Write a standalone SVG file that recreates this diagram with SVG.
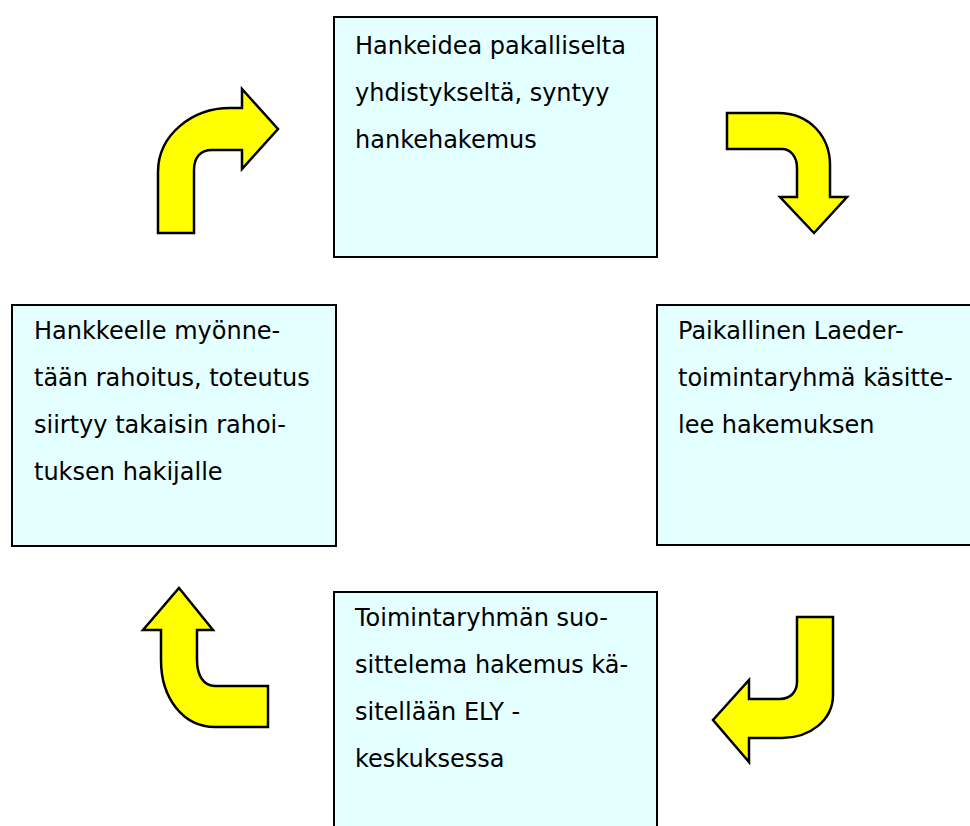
<svg xmlns="http://www.w3.org/2000/svg" width="970" height="826" viewBox="0 0 970 826">
<style>
.box{fill:#e4ffff;stroke:#000;stroke-width:2}
.t{font-family:"DejaVu Sans",Verdana,sans-serif;font-size:24px;fill:#000}
.arr{fill:#ffff00;stroke:#000;stroke-width:2.5;stroke-linejoin:miter}
</style>
<rect width="970" height="826" fill="#fff"/>
<g id="node-top">
<rect class="box" x="334" y="17" width="323" height="240"/>
<text class="t" x="355" y="54">Hankeidea pakalliselta</text>
<text class="t" x="355" y="101">yhdistykseltä, syntyy</text>
<text class="t" x="355" y="148">hankehakemus</text>
</g>
<g id="node-right">
<rect class="box" x="657" y="305" width="320" height="240"/>
<text class="t" x="678" y="339">Paikallinen Laeder-</text>
<text class="t" x="678" y="386">toimintaryhmä käsitte-</text>
<text class="t" x="678" y="433">lee hakemuksen</text>
</g>
<g id="node-bottom">
<rect class="box" x="334" y="592" width="323" height="240"/>
<text class="t" x="355" y="626">Toimintaryhmän suo-</text>
<text class="t" x="355" y="673">sittelema hakemus kä-</text>
<text class="t" x="355" y="720">sitellään ELY -</text>
<text class="t" x="355" y="767">keskuksessa</text>
</g>
<g id="node-left">
<rect class="box" x="12" y="305" width="324" height="241"/>
<text class="t" x="34" y="339">Hankkeelle myönne-</text>
<text class="t" x="34" y="386">tään rahoitus, toteutus</text>
<text class="t" x="34" y="433">siirtyy takaisin rahoi-</text>
<text class="t" x="34" y="480">tuksen hakijalle</text>
</g>
<g id="connectors">
<path class="arr" d="M158,233 L158,172 C158,135 192,108 230,108 L242,108 L242,89 L278,129 L242,169 L242,150 L212,150 C200,150 194,158 194,170 L194,233 Z"/>
<path class="arr" d="M727,113 L778,113 C810,113 830,137 830,165 L830,197 L847,197 L814,233 L780,197 L797,197 L797,168 C797,156 790,149 782,149 L727,149 Z"/>
<path class="arr" d="M797,617 L833,617 L833,695 C833,720 810,738 782,738 L749,738 L749,762 L713,720 L749,680 L749,699 L780,699 C790,699 797,692 797,682 Z"/>
<path class="arr" d="M179,588 L213,630 L197,630 L197,660 C197,676 204,686 215,686 L268,686 L268,727 L215,727 C183,727 161,698 161,660 L161,630 L143,630 Z"/>
</g>
</svg>
